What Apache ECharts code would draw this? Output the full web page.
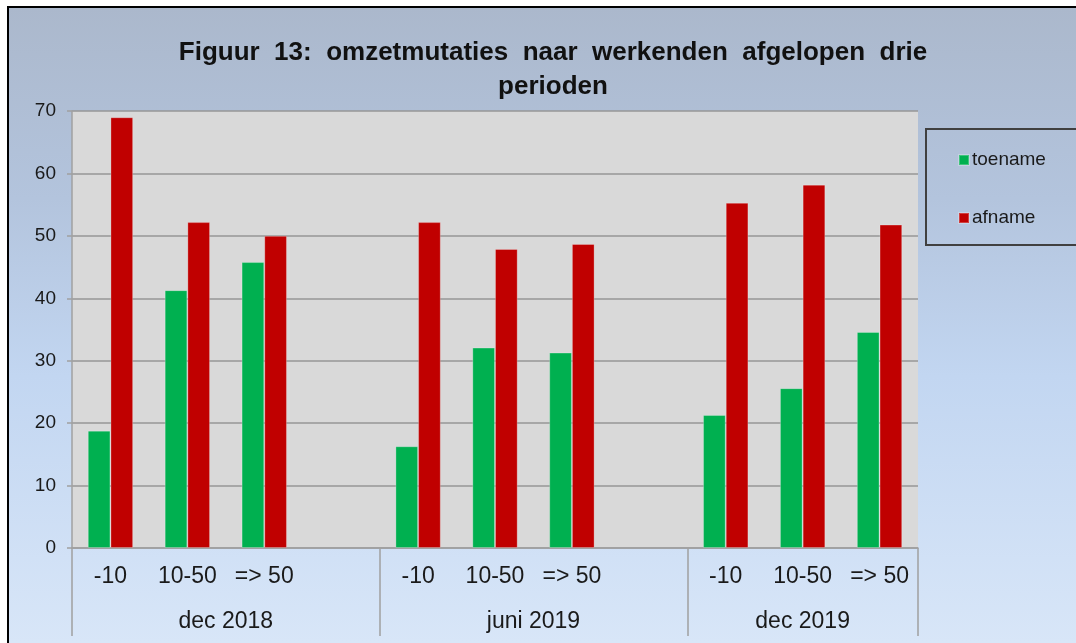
<!DOCTYPE html>
<html>
<head>
<meta charset="utf-8">
<script src="https://cdn.jsdelivr.net/npm/echarts@6/dist/echarts.min.js"></script>
<style>
  html, body { margin: 0; padding: 0; background: #ffffff; overflow: hidden; }
  #chart {
    position: absolute; left: 7px; top: 6px;
    width: 1067px; height: 635px;
    border: 2px solid #000;
    background: linear-gradient(to bottom, #abb8cc 0%, #b3c4dd 30%, #c2d6f1 58%, #d8e6f8 100%);
  }
</style>
</head>
<body>
<div id="chart"></div>
<script>
// categorieën per periode (lege plek na elke periode, zoals in Excel)
const subCategories = ['-10', '10-50', '=> 50', '', '-10', '10-50', '=> 50', '', '-10', '10-50', '=> 50'];
const periods = ['dec 2018', 'juni 2019', 'dec 2019'];
const periodSizes = [4, 4, 3];

const toename = [18.8, 41.3, 45.8, '-', 16.3, 32.1, 31.3, '-', 21.3, 25.6, 34.6];
const afname  = [69.0, 52.2, 50.0, '-', 52.2, 47.9, 48.7, '-', 55.3, 58.2, 51.8];

const yTicks = { min: 0, max: 70, interval: 10 };

// grenzen en midden van de perioden op de tweede (waarde-)as
const periodBounds = [0];
periodSizes.forEach(s => periodBounds.push(periodBounds[periodBounds.length - 1] + s));
const periodCenters = periods.map((p, i) => (periodBounds[i] + periodBounds[i + 1]) / 2);

const font = 'Liberation Sans, Arial, sans-serif';

let chart = echarts.init(document.getElementById('chart'));
let option = {
    backgroundColor: 'transparent',
    animation: false,
    title: {
        text: 'Figuur  13:  omzetmutaties  naar  werkenden  afgelopen  drie\nperioden',
        left: 544,
        top: 28,
        padding: 0,
        textAlign: 'center',
        textStyle: {
            fontFamily: font,
            fontSize: 26,
            fontWeight: 'bold',
            color: '#111',
            lineHeight: 34
        }
    },
    legend: {
        orient: 'vertical',
        left: 917,
        top: 121,
        padding: [20, 200, 16, 32],
        itemGap: 36,
        itemWidth: 10,
        itemHeight: 10,
        icon: 'rect',
        borderColor: '#404040',
        borderWidth: 2,
        textStyle: { fontFamily: font, fontSize: 19, color: '#1a1a1a', lineHeight: 22, padding: [0, 0, 0, -2] },
        data: ['toename', 'afname']
    },
    grid: {
        left: 63,
        top: 103,
        right: 158,
        bottom: 95,
        show: true,
        backgroundColor: '#d9d9d9',
        borderWidth: 0
    },
    xAxis: [
        {
            type: 'category',
            data: subCategories,
            axisLine: { lineStyle: { color: '#a0a0a0', width: 1.5 } },
            axisTick: { interval: 0, length: 45, lineStyle: { color: '#a0a0a0', width: 1.5 } },
            axisLabel: { interval: 0, margin: 17, fontFamily: font, fontSize: 23, color: '#1a1a1a' }
        },
        {
            type: 'value',
            position: 'bottom',
            min: 0,
            max: subCategories.length,
            axisLine: { show: false },
            splitLine: { show: false },
            axisTick: {
                show: true,
                customValues: periodBounds,
                length: 88,
                lineStyle: { color: '#a0a0a0', width: 1.5 }
            },
            axisLabel: {
                customValues: periodCenters,
                margin: 62,
                fontFamily: font,
                fontSize: 23,
                color: '#1a1a1a',
                formatter: v => periods[periodCenters.indexOf(v)] || ''
            }
        }
    ],
    yAxis: {
        type: 'value',
        min: yTicks.min,
        max: yTicks.max,
        interval: yTicks.interval,
        axisLine: { show: true, lineStyle: { color: '#a0a0a0', width: 1.5 } },
        axisTick: { show: true, length: 5, lineStyle: { color: '#a0a0a0', width: 1.5 } },
        axisLabel: { margin: 16, fontFamily: font, fontSize: 19, color: '#1a1a1a' },
        splitLine: { lineStyle: { color: '#969696', width: 1.5 } }
    },
    series: [
        {
            name: 'toename',
            type: 'bar',
            xAxisIndex: 0,
            data: toename,
            barGap: '0%',
            barCategoryGap: '41%',
            itemStyle: { color: '#00b050', borderColor: 'rgba(255,255,255,0.25)', borderWidth: 1 }
        },
        {
            name: 'afname',
            type: 'bar',
            xAxisIndex: 0,
            data: afname,
            barGap: '0%',
            barCategoryGap: '41%',
            itemStyle: { color: '#c00000', borderColor: 'rgba(255,255,255,0.25)', borderWidth: 1 }
        }
    ]
};
chart.setOption(option);
</script>
</body>
</html>
